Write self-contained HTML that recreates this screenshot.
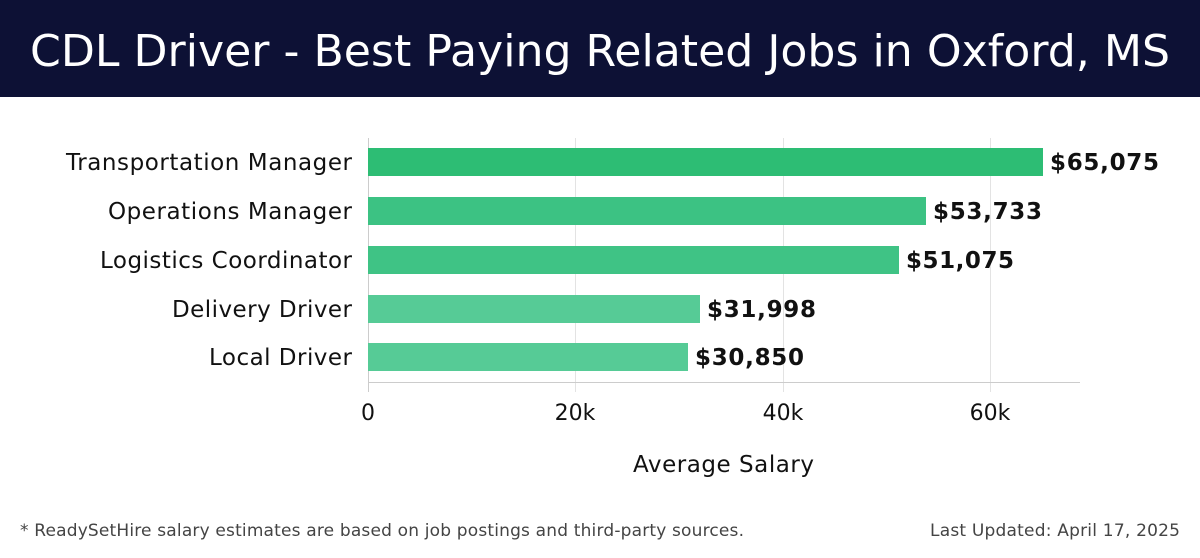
<!DOCTYPE html>
<html><head><style>
body{margin:0;width:1200px;height:558px;background:#fff;font-family:"DejaVu Sans","Liberation Sans",sans-serif;overflow:hidden;position:relative}
</style></head><body>
<svg width="1200" height="558" style="position:absolute;left:0;top:0">
<rect x="0" y="0" width="1200" height="97" fill="#0d1135"/>
<text x="600" y="66" font-size="44" fill="#fff" text-anchor="middle" textLength="1140" lengthAdjust="spacingAndGlyphs">CDL Driver - Best Paying Related Jobs in Oxford, MS</text>
<g stroke="#e3e3e3" stroke-width="1">
<line x1="575.5" y1="138" x2="575.5" y2="392"/>
<line x1="783.5" y1="138" x2="783.5" y2="392"/>
<line x1="990.5" y1="138" x2="990.5" y2="392"/>
</g>
<line x1="368.5" y1="138" x2="368.5" y2="392" stroke="#ccc"/>
<line x1="368" y1="382.5" x2="1080" y2="382.5" stroke="#ccc"/>
<rect x="368" y="148" width="675" height="28" fill="#2dbd74"/>
<rect x="368" y="197" width="558" height="28" fill="#3cc283"/>
<rect x="368" y="246" width="531" height="28" fill="#3fc385"/>
<rect x="368" y="295" width="332" height="28" fill="#56cb96"/>
<rect x="368" y="343" width="320" height="28" fill="#56cb96"/>
<g font-size="23" fill="#111" lengthAdjust="spacingAndGlyphs">
<text x="66" y="170" textLength="286">Transportation Manager</text>
<text x="108" y="219" textLength="244">Operations Manager</text>
<text x="100" y="268" textLength="252">Logistics Coordinator</text>
<text x="172" y="317" textLength="180">Delivery Driver</text>
<text x="209" y="365" textLength="143">Local Driver</text>
</g>
<g font-size="23" font-weight="bold" fill="#111">
<text x="1050" y="170" textLength="109">$65,075</text>
<text x="933" y="219" textLength="109">$53,733</text>
<text x="906" y="268" textLength="108">$51,075</text>
<text x="707" y="317" textLength="109">$31,998</text>
<text x="695" y="365" textLength="109">$30,850</text>
</g>
<g font-size="22" fill="#111" text-anchor="middle">
<text x="368" y="420">0</text>
<text x="575" y="420">20k</text>
<text x="783" y="420">40k</text>
<text x="990" y="420">60k</text>
</g>
<text x="633" y="472" font-size="23" fill="#111" textLength="181">Average Salary</text>
<text x="20" y="536" font-size="17" fill="#444" textLength="724">* ReadySetHire salary estimates are based on job postings and third-party sources.</text>
<text x="930" y="536" font-size="17" fill="#444" textLength="250">Last Updated: April 17, 2025</text>
</svg>
</body></html>
